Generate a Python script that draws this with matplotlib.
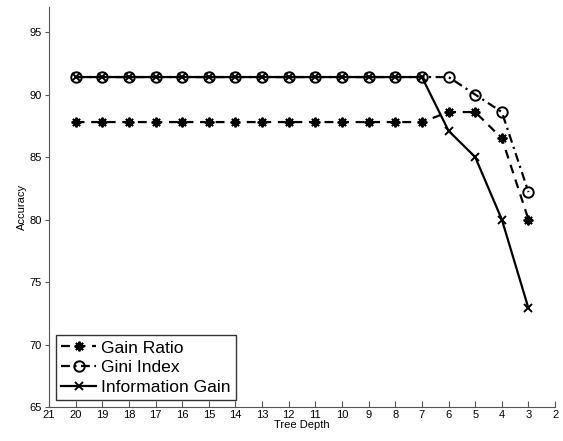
import matplotlib
matplotlib.use("Agg")
import matplotlib.pyplot as plt

plt.rcParams['font.family'] = ['Liberation Sans', 'DejaVu Sans']

depth = [20, 19, 18, 17, 16, 15, 14, 13, 12, 11, 10, 9, 8, 7, 6, 5, 4, 3]
gain_ratio = [87.8] * 14 + [88.6, 88.6, 86.5, 80.0]
gini_index = [91.4] * 14 + [91.4, 90.0, 88.6, 82.2]
info_gain = [91.4] * 14 + [87.1, 85.0, 80.0, 72.9]

fig = plt.figure(figsize=(5.63, 4.41), dpi=100)
ax = fig.add_axes([0.087, 0.077, 0.899, 0.907])

ax.plot(depth, gain_ratio, color='black', linestyle=(0, (4, 3)), linewidth=1.6,
        marker=(8, 2, 0), markersize=7, markeredgewidth=1.4, label='Gain Ratio')
ax.plot(depth, gini_index, color='black', linestyle=(0, (4, 2, 1, 2)), linewidth=1.6,
        marker='o', markersize=7.5, markerfacecolor='none', markeredgewidth=1.4,
        label='Gini Index')
ax.plot(depth, info_gain, color='black', linestyle='-', linewidth=1.6,
        marker='x', markersize=6, markeredgewidth=1.4, label='Information Gain')

ax.set_xlim(21, 2)
ax.set_ylim(65, 97)
ax.set_xticks(range(21, 1, -1))
ax.set_yticks([65, 70, 75, 80, 85, 90, 95])
ax.tick_params(axis='x', direction='in', length=4, labelsize=8, pad=2, color='#555555')
ax.tick_params(axis='y', direction='out', length=3, labelsize=8, pad=2, color='#555555')
ax.spines['top'].set_visible(False)
ax.spines['right'].set_visible(False)
ax.spines['left'].set_color('#555555')
ax.spines['bottom'].set_color('#555555')
ax.set_xlabel('Tree Depth', fontsize=8, labelpad=0)
ax.set_ylabel('Accuracy', fontsize=8, labelpad=2)

leg = ax.legend(loc='lower left', fontsize=12.6, frameon=True, fancybox=False,
                handlelength=2.0, handletextpad=0.3, borderpad=0.3,
                labelspacing=0.25, borderaxespad=0.4)
leg.get_frame().set_edgecolor('black')
leg.get_frame().set_linewidth(1.0)

fig.savefig('out.png', dpi=100)
